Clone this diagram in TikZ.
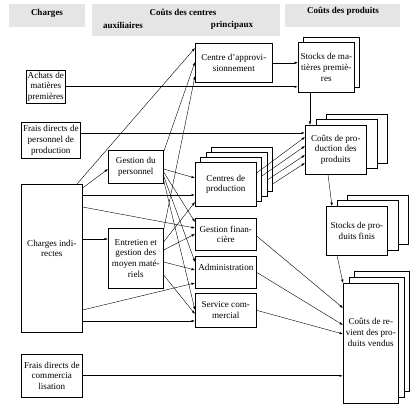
\documentclass[tikz,border=0pt]{standalone}
\usepackage{fontspec}
\setmainfont{Liberation Serif}
\usetikzlibrary{calc,arrows.meta}
\begin{document}
\begin{tikzpicture}[x=1pt,y=-1pt,
  box/.style={draw,line width=0.6pt,fill=white,inner sep=0.5pt,align=center,anchor=north west,
    font=\fontsize{9.1}{10.8}\selectfont},
  txt/.style={inner sep=0pt,align=center,font=\fontsize{9.1}{10.8}\selectfont},
  headbar/.style={fill=black!10,draw=none},
  headtxt/.style={inner sep=0pt,font=\bfseries\fontsize{9}{10}\selectfont},
  conn/.style={line width=0.4pt,-{Latex[length=3.5pt,width=2.4pt]}},
  thickconn/.style={line width=0.7pt,-{Latex[length=3.5pt,width=2.4pt]}}]
\useasboundingbox (0,0) rectangle (420,414);

% header bars
\fill[headbar] (9,4) rectangle (85,27);
\fill[headbar] (92,4) rectangle (280,36);
\fill[headbar] (285,4) rectangle (400,27);
\node[headtxt] (hch) at (47,13) {Charges};
\node[headtxt] (hcc) at (183,12) {Coûts des centres};
\node[headtxt] (haux) at (123,25) {auxiliaires};
\node[headtxt] (hpri) at (232,25) {principaux};
\node[headtxt] (hcp) at (343,11) {Coûts des produits};

% left column
\node[box,minimum width=39,minimum height=33] (achats) at (26,70) {Achats de\\matières\\premières};
\node[box,minimum width=59,minimum height=36] (fdpp) at (21,122) {Frais directs de\\personnel de\\production};
\node[box,minimum width=61,minimum height=148] (ci) at (21,184) {};
\node[txt] (citxt) at ($(ci.center)+(0,-10)$) {Charges indi-\\rectes};
\node[box,minimum width=61,minimum height=43] (fdc) at (21,354) {Frais directs de\\commercia\\lisation};

% auxiliary centres
\node[box,minimum width=55,minimum height=33] (gp) at (108,150) {Gestion du\\personnel};
\node[box,minimum width=55,minimum height=60] (ent) at (108,228) {Entretien et\\gestion des\\moyen maté-\\riels};

% main centres
\node[box,minimum width=77,minimum height=39] (ca) at (195,43) {Centre d'approvi-\\sionnement};
\node[box,minimum width=61,minimum height=44] (cp3) at (211,147) {};
\node[box,minimum width=61,minimum height=44] (cp2) at (205.7,152) {};
\node[box,minimum width=61,minimum height=44] (cp1) at (200.3,157) {};
\node[box,minimum width=61,minimum height=44] (cp) at (195,162) {Centres de\\production};
\node[box,minimum width=61,minimum height=32] (gf) at (195,218) {Gestion finan-\\cière};
\node[box,minimum width=61,minimum height=32] (adm) at (195,256) {};
\node[txt] (admtxt) at ($(adm.center)+(0,-5)$) {Administration};
\node[box,minimum width=61,minimum height=34] (sc) at (195,293) {Service com-\\mercial};

% products
\node[box,minimum width=56,minimum height=50] (smp2) at (303,37) {};
\node[box,minimum width=56,minimum height=50] (smp) at (298,42) {Stocks de ma-\\tières premiè-\\res};
\node[box,minimum width=61,minimum height=49] (cpp3) at (326,114) {};
\node[box,minimum width=61,minimum height=49] (cpp2) at (315.5,119.5) {};
\node[box,minimum width=61,minimum height=49] (cpp) at (305,125) {Coûts de pro-\\duction des\\produits};
\node[box,minimum width=61,minimum height=49] (spf3) at (347,195) {};
\node[box,minimum width=61,minimum height=49] (spf2) at (336.5,200.5) {};
\node[box,minimum width=61,minimum height=49] (spf) at (326,206) {Stocks de pro-\\duits finis};
\node[box,minimum width=55,minimum height=120] (crv3) at (354,271) {};
\node[box,minimum width=55,minimum height=120] (crv2) at (348.5,277) {};
\node[box,minimum width=55,minimum height=120] (crv) at (343,283) {};
\node[txt] (crvtxt) at ($(crv.center)+(0,-11)$) {Coûts de re-\\vient des pro-\\duits vendus};

% direct flows
\draw[thickconn] (achats.east) -- (achats.east -| smp.west);
\draw[thickconn] ($(fdpp.north east)+(0,11)$) coordinate (a1) -- (a1 -| cpp.west);
\draw[conn] (ca.east) -- (ca.east -| smp.west);
\draw[conn] ($(smp.south west)+(12,0)$) coordinate (a2) -- (a2 |- cpp.north);
\draw[conn] ($(cpp.south west)+(23,0)$) -- ($(spf.north west)+(6,0)$);
\draw[conn] ($(spf.south west)+(11,0)$) -- (crv.north west);
\draw[thickconn] (fdc.east) -- (fdc.east -| crv.west);
\draw[conn] ($(gf.north east)+(0,18)$) -- ($(crv.north west)+(0,25)$);
\draw[conn] (adm.east) -- ($(crv.north west)+(0,42)$);
\draw[conn] (sc.east) -- ($(crv.north west)+(0,51)$);

% production centres to production costs
\draw[conn] ($(cp.north east)+(0,11)$) -- ($(cpp.north west)+(0,12)$);
\draw[conn] ($(cp1.north east)+(0,19)$) -- ($(cpp.north west)+(0,21)$);
\draw[conn] ($(cp2.north east)+(0,28)$) -- ($(cpp.north west)+(0,30)$);
\draw[conn] ($(cp3.north east)+(0,37)$) -- ($(cpp.north west)+(0,38)$);

% indirect charges
\draw[conn] ($(ci.north west)+(56,0)$) -- ($(ca.north west)+(0,5)$);
\draw[conn] ($(ci.north east)+(0,4)$) -- ($(gp.north west)+(0,19)$);
\draw[thickconn] ($(ci.north east)+(0,11)$) coordinate (b1) -- (b1 -| cp.west);
\draw[conn] ($(ci.north east)+(0,23)$) -- ($(gf.north west)+(0,10)$);
\draw[conn] ($(ci.north east)+(0,55)$) coordinate (b2) -- (b2 -| ent.west);
\draw[conn] ($(ci.north east)+(0,126)$) -- ($(adm.north west)+(0,27)$);
\draw[conn] ($(ci.north east)+(0,137)$) coordinate (b3) -- (b3 -| sc.west);

% auxiliary centres to main centres
\draw[conn] ($(gp.north east)+(0,2)$) -- ($(ca.north west)+(0,19)$);
\draw[conn] ($(gp.north east)+(0,19)$) -- ($(cp.north west)+(0,16)$);
\draw[conn] ($(gp.north east)+(0,22)$) -- ($(gf.north west)+(0,4)$);
\draw[conn] ($(gp.north east)+(0,26)$) -- ($(adm.north west)+(0,6)$);
\draw[conn] ($(gp.north east)+(0,30)$) -- ($(sc.north west)+(0,17)$);
\draw[conn] ($(ent.north east)+(0,2)$) -- ($(ca.north west)+(0,33)$);
\draw[conn] ($(ent.north east)+(0,14)$) -- ($(cp.north west)+(0,40)$);
\draw[conn] ($(ent.north east)+(0,22)$) -- ($(gf.north west)+(0,16)$);
\draw[conn] ($(ent.north east)+(0,34)$) -- ($(adm.north west)+(0,14)$);
\draw[conn] ($(ent.north east)+(0,47)$) -- ($(sc.north west)+(0,21)$);
\end{tikzpicture}
\end{document}
